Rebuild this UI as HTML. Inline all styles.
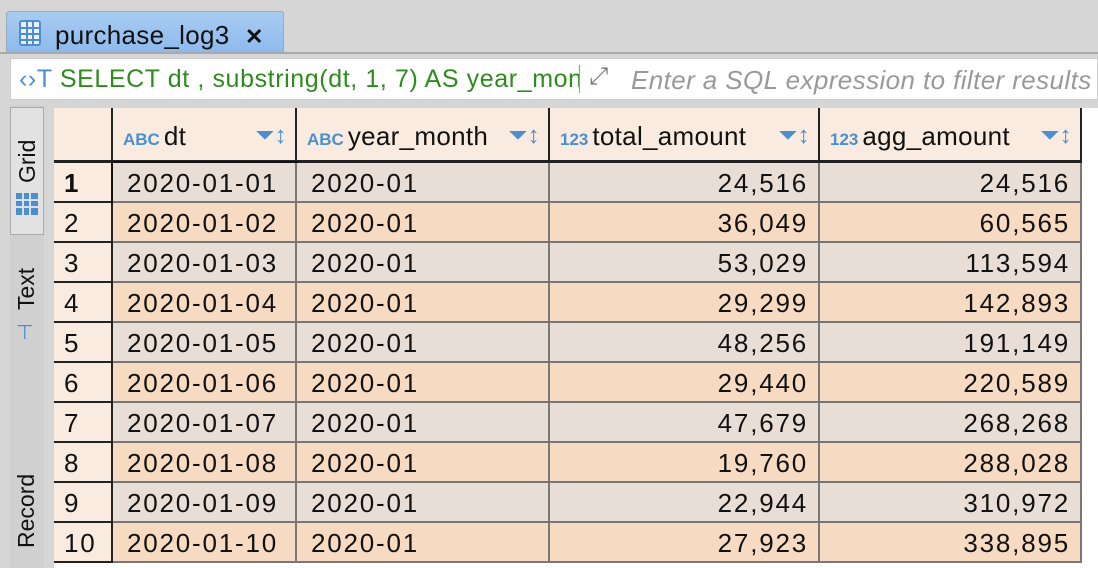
<!DOCTYPE html>
<html><head><meta charset="utf-8"><style>
*{box-sizing:border-box;margin:0;padding:0}
body{width:1098px;height:568px;overflow:hidden;background:#d6d6d6;font-family:"Liberation Sans",Arial,sans-serif;position:relative}
.abs{position:absolute}
#tab{left:6px;top:11px;width:278px;height:42px;background:linear-gradient(#a9ccf2,#8cb9ee);border:1px solid #9ab;border-bottom:none;border-radius:3px 3px 0 0;font-size:26px;color:#111;padding:8px 0 0 48px;white-space:nowrap;letter-spacing:0.3px}
#topline{left:0;top:52px;width:1098px;height:2px;background:#aaa}
#filter{left:10px;top:58px;width:1088px;height:42px;background:#fff;border:1px solid #ccc}
#sql{left:8px;top:6px;font-size:25px;color:#2e8b1e;white-space:nowrap;width:560px;overflow:hidden;letter-spacing:0.6px}
#ph{left:620px;top:6px;font-size:26px;color:#999;font-style:italic;white-space:nowrap;letter-spacing:0.4px}
#side{left:10px;top:105px;width:34px;height:463px;background:#d0d0d0}
.vt{position:absolute;transform:rotate(-90deg);transform-origin:left top;font-size:23px;color:#111;white-space:nowrap}
#gridtab{left:10px;top:107px;width:34px;height:128px;background:#e2e2e2;border:1px solid #aaa}
#table{left:54px;top:108px;width:1044px;height:460px;background:#fff}
.cell{position:absolute;font-size:26px;letter-spacing:1.8px;color:#111;white-space:nowrap;padding-top:5px;border-right:2px solid #777;border-bottom:2px solid #777}
.hdr{background:#f9ebdf;border-right:2px solid #222;border-bottom:3px solid #222;padding-top:13px;letter-spacing:0.3px}
.typ{color:#4a8fd0;font-size:17px;font-weight:bold;margin-right:4px;letter-spacing:0}
.ic{position:absolute;right:8px;top:14px;color:#4a8fd0;font-size:24px}
.rn{background:#f9ebdf;border-right:2px solid #222;border-bottom:2px solid #222;padding-left:10px}
</style></head><body>
<div id="tab" class="abs">
<svg class="abs" style="left:12px;top:8px" width="22" height="26"><rect x="1" y="1" width="20" height="24" rx="2" fill="#eef" stroke="#4a8fd0" stroke-width="2"/><path d="M1 8H21M1 14H21M1 20H21M8 1V25M14 1V25" stroke="#4a8fd0" stroke-width="2"/></svg>
purchase_log3 <span style="margin-left:8px;font-weight:bold;font-size:22px">✕</span></div>
<div id="topline" class="abs"></div>
<div id="filter" class="abs">
<div id="sql" class="abs"><span style="color:#4a8fd0">‹›T</span> SELECT dt , substring(dt, 1, 7) AS year_month</div>
<div class="abs" style="left:568px;top:6px;width:1px;height:28px;background:#999"></div>
<div class="abs" style="left:578px;top:4px;font-size:24px;color:#777">⤢</div>
<div id="ph" class="abs">Enter a SQL expression to filter results</div>
</div>
<div id="side" class="abs"></div>
<div id="gridtab" class="abs">
<div class="vt" style="left:3px;top:75px">Grid</div>
<svg class="abs" style="left:4px;top:84px" width="24" height="24"><rect x="1" y="1" width="22" height="22" fill="#4a8fd0"/><path d="M1 8H23M1 15H23M8 1V23M15 1V23" stroke="#dde" stroke-width="2"/></svg>
</div>
<div class="abs" style="left:10px;top:258px;width:34px;height:90px">
<div class="vt" style="left:3px;top:52px">Text</div>
<div class="abs" style="left:6px;top:62px;color:#4a8fd0;font-size:20px">⊤</div>
</div>
<div class="abs" style="left:10px;top:455px;width:34px;height:113px">
<div class="vt" style="left:3px;top:93px">Record</div>
</div>
<div id="table" class="abs"></div>
<script>
const dts=["2020-01-01","2020-01-02","2020-01-03","2020-01-04","2020-01-05","2020-01-06","2020-01-07","2020-01-08","2020-01-09","2020-01-10"];
const yms=["2020-01","2020-01","2020-01","2020-01","2020-01","2020-01","2020-01","2020-01","2020-01","2020-01"];
const totals=["24,516","36,049","53,029","29,299","48,256","29,440","47,679","19,760","22,944","27,923"];
const aggs=["24,516","60,565","113,594","142,893","191,149","220,589","268,268","288,028","310,972","338,895"];
const T=document.getElementById('table');
const cols=[[0,59],[59,184],[243,253],[496,270],[766,262]];
const heads=[["",""],["ABC","dt"],["ABC","year_month"],["123","total_amount"],["123","agg_amount"]];
function mk(x,y,w,h,cls){const d=document.createElement('div');d.className='cell '+cls;d.style.left=x+'px';d.style.top=y+'px';d.style.width=w+'px';d.style.height=h+'px';T.appendChild(d);return d;}
for(let c=0;c<5;c++){
 const d=mk(cols[c][0],0,cols[c][1],55,'hdr');
 
 
 if(c>0){d.style.paddingLeft='10px';d.innerHTML='<span class="typ">'+heads[c][0]+'</span>'+heads[c][1]+'<span class="ic">⏷↕</span>';}
}
for(let r=0;r<10;r++){
 const y=55+r*40;const bg=r%2?'#f7dac2':'#e9ded6';
 const n=mk(0,y,59,40,'rn');n.textContent=(r+1);if(r==0)n.style.fontWeight='bold';
 
 
 const vals=[dts[r],yms[r],totals[r],aggs[r]];
 for(let c=1;c<5;c++){
  const d=mk(cols[c][0],y,cols[c][1],40,'');d.style.background=bg;d.textContent=vals[c-1];
  if(c>=3){d.style.textAlign='right';d.style.paddingRight='10px';}else d.style.paddingLeft='14px';
  if(r==0&&c==1)d.style.outline='2px solid #111';
  
  
 }
}
</script>
</body></html>
